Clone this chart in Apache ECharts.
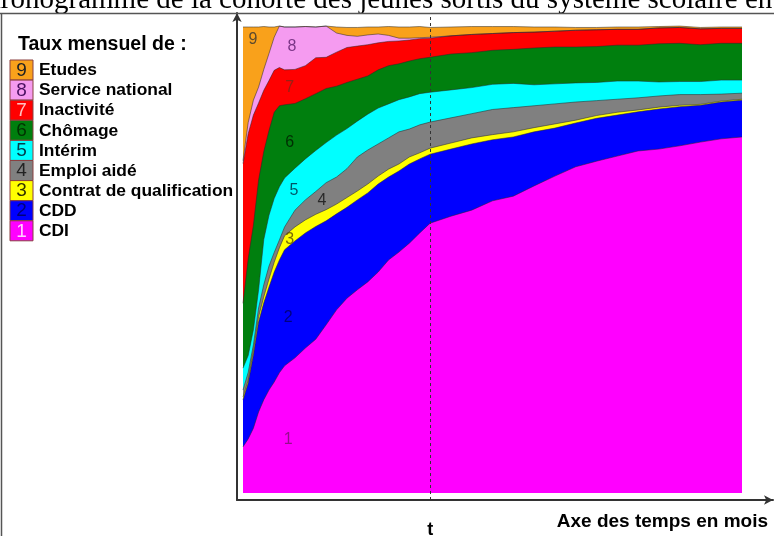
<!DOCTYPE html>
<html>
<head>
<meta charset="utf-8">
<script src="https://cdn.jsdelivr.net/npm/echarts@6/dist/echarts.min.js"></script>
<style>html,body{margin:0;padding:0;background:#fff}#c{width:774px;height:536px}</style>
</head>
<body>
<div id="c"></div>
<script>
// ---- data (months after leaving school; monthly shares in %) ----
const months = [0,1,2,3,4,5,6,7,8,10,12,14,16,18,20,22,24,26,28,30,32,34,36,40,44,48,52,56,60,64,68,72,76,80,84,88,92,96];
const cdi = [9.9,11.6,13.9,17.4,20.0,22.1,23.8,25.8,27.3,29.0,31.1,33.0,36.1,39.3,41.8,43.6,45.3,47.4,50.0,51.7,53.6,55.8,57.9,59.4,60.7,62.7,63.7,65.9,68.0,70.0,71.2,72.3,73.4,73.8,74.5,75.3,76.0,76.4];
const cdd = [10.1,12.0,15.7,19.3,20.8,22.1,23.6,24.2,24.9,25.1,24.7,24.2,22.3,20.6,19.5,19.3,19.1,18.9,17.8,17.4,17.0,15.9,14.8,14.4,14.2,13.1,12.7,11.6,10.3,9.4,9.2,8.8,8.4,8.6,8.4,7.9,7.9,7.9];
const contratQualif = [0.6,0.6,0.9,1.1,1.3,1.7,2.1,2.6,3.0,3.0,2.8,2.6,2.4,2.1,2.1,1.9,1.9,1.7,1.7,1.5,1.5,1.3,1.3,1.3,1.3,1.1,1.1,0.9,0.9,0.6,0.6,0.6,0.4,0.4,0.3,0.2,0.2,0.2];
const emploiAide = [1.5,1.7,1.3,1.9,2.6,2.8,2.1,1.7,1.9,3.6,4.3,4.9,5.8,5.8,6.2,7.3,7.3,6.9,6.7,6.9,6.0,6.0,5.6,5.4,5.2,5.4,5.2,4.7,4.3,3.9,3.2,2.8,2.6,2.4,2.3,2.1,1.5,1.3];
const interim = [4.7,3.6,3.2,3.9,9.7,10.9,11.6,11.4,10.5,9.0,8.8,8.8,8.6,9.0,8.6,7.7,7.7,7.7,7.3,6.9,6.9,6.7,6.4,6.0,5.6,5.4,5.2,4.5,4.3,4.1,3.9,3.9,3.6,3.0,2.8,2.8,3.0,2.8];
const chomage = [13.9,20.8,22.5,23.6,18.9,18.2,18.5,17.4,15.7,13.9,12.9,12.2,11.6,10.5,9.9,9.0,8.2,8.2,8.2,7.7,7.7,7.5,7.5,7.7,7.5,7.3,7.3,7.9,7.9,7.7,7.7,7.7,7.7,8.2,8.2,7.9,7.9,7.9];
const inactivite = [30.0,26.8,23.6,16.5,13.1,10.7,9.0,8.2,7.5,7.3,7.1,7.7,6.7,7.3,7.5,7.1,6.7,5.8,5.2,4.9,4.5,4.3,4.1,3.9,3.9,3.6,3.6,3.4,3.4,3.6,3.6,3.4,3.4,3.4,3.4,3.4,3.2,3.2];
const serviceNational = [0.6,2.4,3.2,3.4,4.5,5.8,7.1,8.9,9.2,9.1,8.4,6.6,6.7,4.1,2.6,2.1,2.1,1.9,1.3,0.6,0.4,0.2,0.2,0,0,0,0,0,0,0,0,0,0,0,0,0,0,0];
const etudes = [28.7,20.5,15.7,12.9,9.2,5.7,2.2,0,0,0,0,0,0,1.3,1.7,1.9,1.7,1.5,1.9,2.4,2.4,2.4,2.1,1.9,1.7,1.5,1.3,1.1,0.9,0.6,0.5,0.5,0.5,0.3,0.3,0.3,0.3,0.3];

const seriesValues = [cdi, cdd, contratQualif, emploiAide, interim, chomage, inactivite, serviceNational, etudes];
const seriesNames = ['CDI','CDD','Contrat de qualification','Emploi aidé','Intérim','Chômage','Inactivité','Service national','Etudes'];
const seriesNums = ['1','2','3','4','5','6','7','8','9'];
const tMonth = 36;
// where the number of each band is written (month, %)
const bandLabelMonth = [8.7, 8.7, 9.0, 15.2, 9.8, 9.0, 9.0, 9.4, 1.9];
const bandLabelPct = [11.4, 37.6, 54.3, 62.7, 65.0, 75.1, 87.1, 95.9, 97.2];

// ---- styles ----
const colors = ['#FF00FF','#0000FF','#FFFF00','#808080','#00FFFF','#007F0E','#FF0000','#F59BF0','#F9A11B'];
const boxNumColors = ['#FFD0FF','#00007A','#333300','#222222','#004050','#003300','#FFC0C0','#4A1060','#222222'];
const bandNumColors = ['#7A1070','#000060','#5A4A00','#111111','#002A40','#001A00','#7A2A1A','#5A1A6A','#333333'];

const chart = echarts.init(document.getElementById('c'), null, {renderer: 'canvas'});

// cumulative stacking (band i drawn from the top of band i-1 up to its own top)
const cumulative = [];
seriesValues.forEach((vals, i) => {
  cumulative.push(vals.map((v, k) => +(((i > 0 ? cumulative[i - 1][k] : 0) + v).toFixed(2))));
});

const series = [];
for (let i = seriesValues.length - 1; i >= 0; i--) {
  series.push({
    name: seriesNames[i],
    type: 'line',
    symbol: 'none',
    smooth: false,
    data: months.map((m, k) => [m, cumulative[i][k]]),
    lineStyle: {width: 0.7, color: 'rgba(40,40,40,0.75)'},
    areaStyle: {color: colors[i], opacity: 1, origin: 'auto'},
    itemStyle: {color: colors[i]},
    silent: true,
    markLine: i === 0 ? {
      silent: true,
      symbol: 'none',
      lineStyle: {type: [3, 3], color: '#333', width: 1},
      label: {show: true, position: 'start', formatter: 't', fontFamily: 'Arial', fontWeight: 'bold', fontSize: 18, color: '#000', distance: 21},
      data: [{xAxis: tMonth}]
    } : undefined
  });
}

series.push({
  type: 'scatter',
  symbolSize: 0,
  silent: true,
  z: 6,
  data: bandLabelMonth.map((m, i) => ({
    value: [m, bandLabelPct[i]],
    label: {show: true, position: 'inside', formatter: seriesNums[i], color: bandNumColors[i], fontFamily: 'Arial', fontSize: 16}
  }))
});

// legend built from the same names/colours
const legendEls = [];
legendEls.push({type: 'text', left: 18, top: 35, style: {text: 'Taux mensuel de :', font: 'bold 19.5px Arial', fill: '#000'}});
for (let r = 0; r < 9; r++) {
  const i = 8 - r;
  const y = 60 + r * 20.1;
  legendEls.push({type: 'rect', shape: {x: 10, y: y, width: 23, height: 20}, style: {fill: colors[i], stroke: '#8B4040', lineWidth: 1}});
  legendEls.push({type: 'text', x: 21.5, y: y + 10.5, style: {text: seriesNums[i], font: '19px Arial', fill: boxNumColors[i], align: 'center', verticalAlign: 'middle'}});
  legendEls.push({type: 'text', x: 39, y: y + 10.5, style: {text: seriesNames[i], font: 'bold 17.4px Arial', fill: '#000', align: 'left', verticalAlign: 'middle'}});
}

const option = {
  animation: false,
  backgroundColor: '#fff',
  grid: {left: 237, right: 1, top: 13, bottom: 36, containLabel: false},
  xAxis: {
    type: 'value',
    min: -1.154, max: 101.96,
    name: 'Axe des temps en mois',
    nameLocation: 'end',
    nameGap: 0,
    nameTextStyle: {fontFamily: 'Arial', fontWeight: 'bold', fontSize: 19, color: '#000', align: 'right', verticalAlign: 'top', padding: [12, 5, 0, 0]},
    axisLine: {show: true, onZero: false, lineStyle: {color: '#333', width: 2}, symbol: ['none', 'arrow'], symbolSize: [7, 9]},
    axisTick: {show: false}, axisLabel: {show: false}, splitLine: {show: false}
  },
  yAxis: {
    type: 'value',
    min: -1.502, max: 103.004,
    axisLine: {show: true, onZero: false, lineStyle: {color: '#333', width: 2}, symbol: ['none', 'arrow'], symbolSize: [7, 9]},
    axisTick: {show: false}, axisLabel: {show: false}, splitLine: {show: false}
  },
  series: series,
  graphic: [
    {type: 'text', x: -33, y: 0, z: 10, style: {text: 'Chronogramme de la cohorte des jeunes sortis du système scolaire en', font: '29px "Liberation Serif", "Times New Roman", serif', fill: '#000', align: 'left', verticalAlign: 'middle'}},
    {type: 'line', z: 10, shape: {x1: 0, y1: 13.5, x2: 774, y2: 13.5}, style: {stroke: '#555', lineWidth: 1.5}},
    {type: 'line', z: 10, shape: {x1: 1.5, y1: 13, x2: 1.5, y2: 536}, style: {stroke: '#555', lineWidth: 1.5}}
  ].concat(legendEls)
};
chart.setOption(option);
</script>
</body>
</html>
